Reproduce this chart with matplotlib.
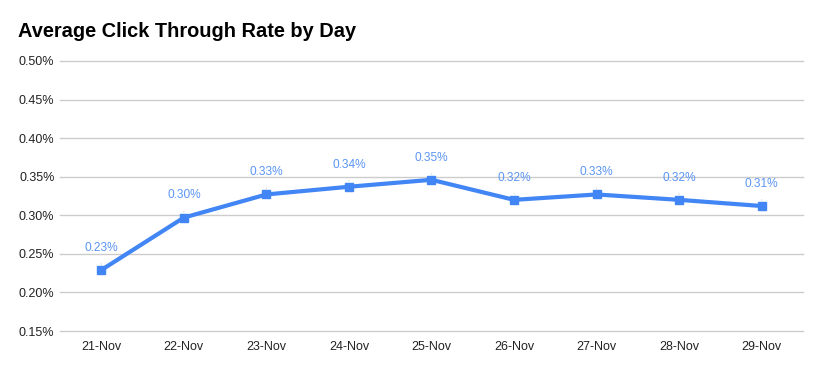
import matplotlib
matplotlib.use("Agg")
import matplotlib.pyplot as plt
from matplotlib.ticker import FuncFormatter

days = ["21-Nov", "22-Nov", "23-Nov", "24-Nov", "25-Nov", "26-Nov", "27-Nov", "28-Nov", "29-Nov"]
ctr = [0.229, 0.297, 0.327, 0.337, 0.346, 0.320, 0.327, 0.320, 0.312]
yticks = [0.15, 0.20, 0.25, 0.30, 0.35, 0.40, 0.45, 0.50]

plt.rcParams['font.family'] = ['Liberation Sans', 'DejaVu Sans']

fig = plt.figure(figsize=(8.23, 3.71), dpi=100)
ax = fig.add_axes([0.0729, 0.1078, 0.9028, 0.7278])

x = list(range(len(days)))
ax.plot(x, ctr, color="#4285F4", lw=3, marker="s", markersize=6, zorder=3,
        solid_joinstyle="round")

for xi, v in zip(x, ctr):
    ax.annotate(f"{v:.2f}%", xy=(xi, v), xytext=(0, 16), textcoords="offset points",
                ha="center", va="center", fontsize=8.6, color="#5b95f5",
                arrowprops=dict(arrowstyle="-", color="#e0e0e0", lw=0.8,
                                shrinkA=5, shrinkB=4), zorder=4)

ax.set_xlim(-0.5, len(days) - 0.5)
ax.set_ylim(0.15, 0.50)
ax.set_yticks(yticks)
ax.yaxis.set_major_formatter(FuncFormatter(lambda v, p: f"{v:.2f}%"))
ax.set_xticks(x)
ax.set_xticklabels(days)
ax.grid(axis="y", color="#cccccc", lw=1)
for gl in ax.get_ygridlines():
    gl.set_clip_on(False)
ax.set_axisbelow(True)
for s in ax.spines.values():
    s.set_visible(False)
ax.tick_params(axis="both", length=0, labelsize=9, colors="#222222")
ax.tick_params(axis="y", pad=4)
ax.tick_params(axis="x", pad=7)

fig.text(0.022, 0.915, "Average Click Through Rate by Day", fontsize=14.4,
         fontweight="bold", color="#000000", ha="left", va="center")

fig.savefig("out.png", dpi=100)
